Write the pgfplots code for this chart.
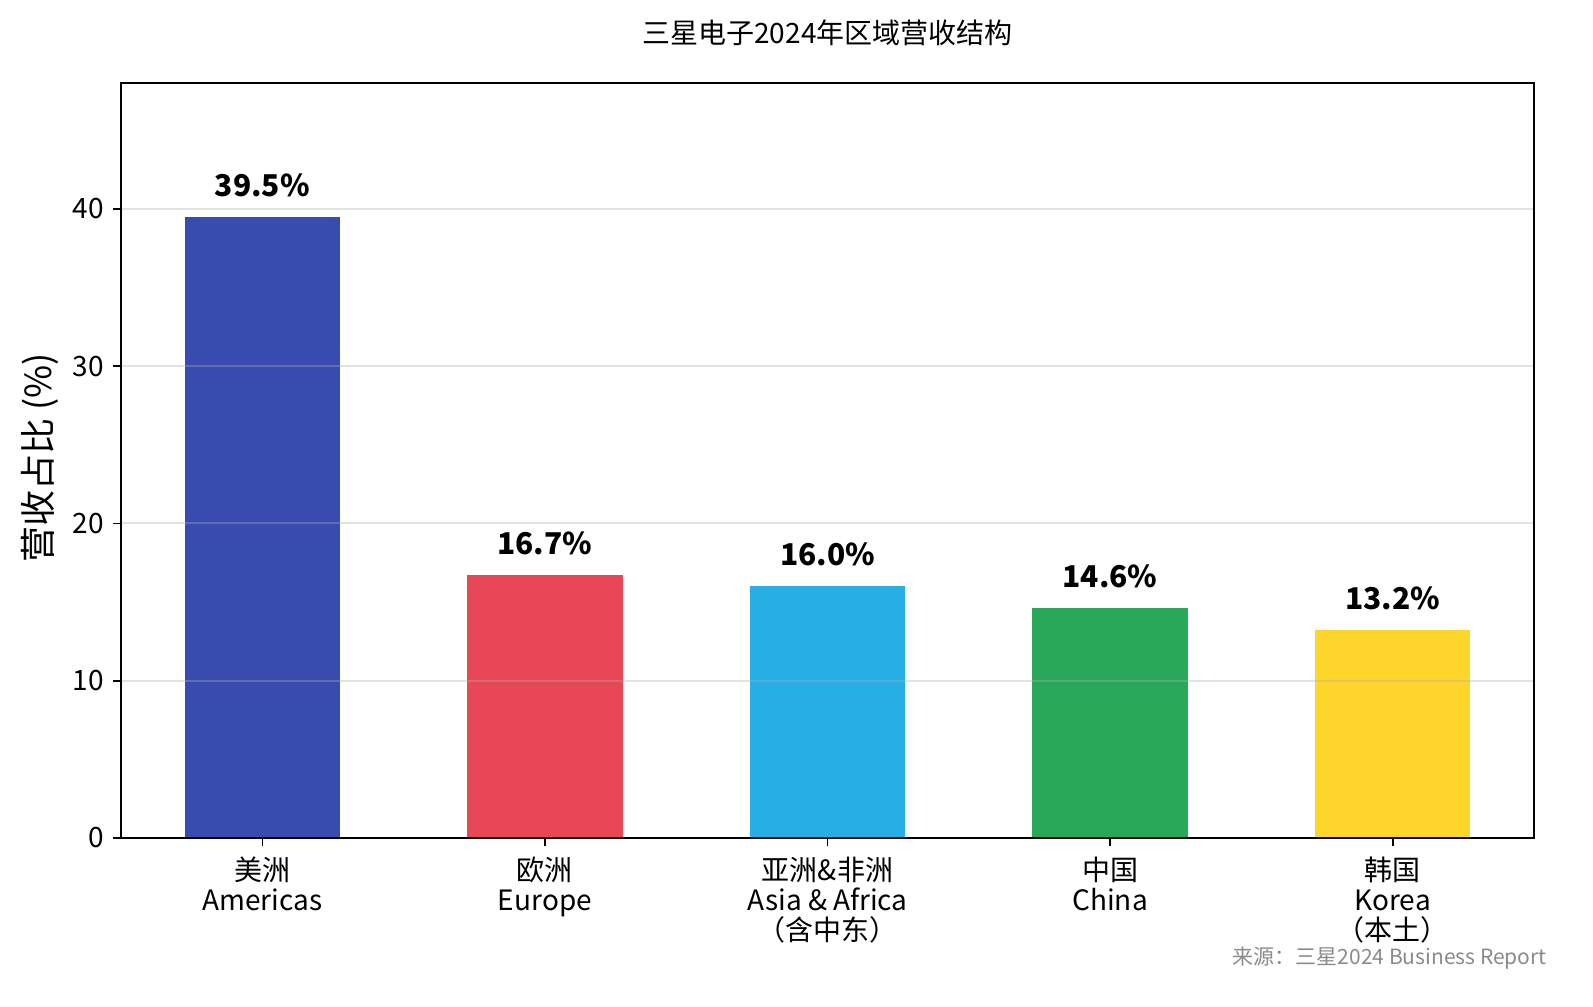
\documentclass[border=0pt]{standalone}
\usepackage{pgfplots}
\pgfplotsset{compat=1.18}
\usepackage{fontspec}
\setmainfont{Noto Sans CJK SC}
\definecolor{cA}{HTML}{384BAE}
\definecolor{cB}{HTML}{E84756}
\definecolor{cC}{HTML}{27AEE5}
\definecolor{cD}{HTML}{29A859}
\definecolor{cE}{HTML}{FED52A}
\definecolor{gridc}{HTML}{B0B0B0}
\definecolor{srcc}{HTML}{8A8A8A}
\begin{document}
\begin{tikzpicture}
\useasboundingbox (0,0) rectangle (796.5pt,503pt);
\begin{axis}[
  at={(60.5pt,84pt)}, anchor=south west,
  scale only axis, width=706.5pt, height=377.5pt,
  xmin=-0.5, xmax=4.5, ymin=0, ymax=48,
  xtick={0,1,2,3,4},
  xticklabels={{美洲\\Americas},{欧洲\\Europe},{亚洲\&非洲\\Asia \& Africa\\（含中东）},{中国\\China},{韩国\\Korea\\（本土）}},
  xticklabel style={align=center, font=\fontsize{14}{15}\selectfont, yshift=-2pt},
  ytick={0,10,20,30,40},
  yticklabel style={font=\fontsize{14}{15}\selectfont, xshift=-1pt},
  /pgf/number format/assume math mode=true,
  tick align=outside, xtick pos=bottom, ytick pos=left,
  major tick length=4pt,
  tick style={black, line width=0.8pt},
  axis line style={black, line width=0.8pt},
  ymajorgrids, grid style={gridc, line width=1pt, opacity=0.35},
  axis on top,
  ybar, bar width=0.55, bar shift=0pt,
  point meta=y,
  nodes near coords={\pgfmathprintnumber[fixed,precision=1,fixed zerofill]{\pgfplotspointmeta}\%},
  every node near coord/.append style={font=\bfseries\fontsize{15}{15}\selectfont, yshift=6.5pt, black},
]
\addplot[draw=none, fill=cA] coordinates {(0,39.5)};
\addplot[draw=none, fill=cB] coordinates {(1,16.7)};
\addplot[draw=none, fill=cC] coordinates {(2,16.0)};
\addplot[draw=none, fill=cD] coordinates {(3,14.6)};
\addplot[draw=none, fill=cE] coordinates {(4,13.2)};
\end{axis}
\node[font=\fontsize{14}{14}\selectfont] at (413.75pt,486.5pt) {三星电子2024年区域营收结构};
\node[rotate=90, font=\fontsize{18}{18}\selectfont] at (20pt,274pt) {营收占比 (\%)};
\node[anchor=east, font=\fontsize{10.5}{10.5}\selectfont, text=srcc, inner sep=0pt] at (773.5pt,24pt) {来源：三星2024 Business Report};
\end{tikzpicture}
\end{document}
